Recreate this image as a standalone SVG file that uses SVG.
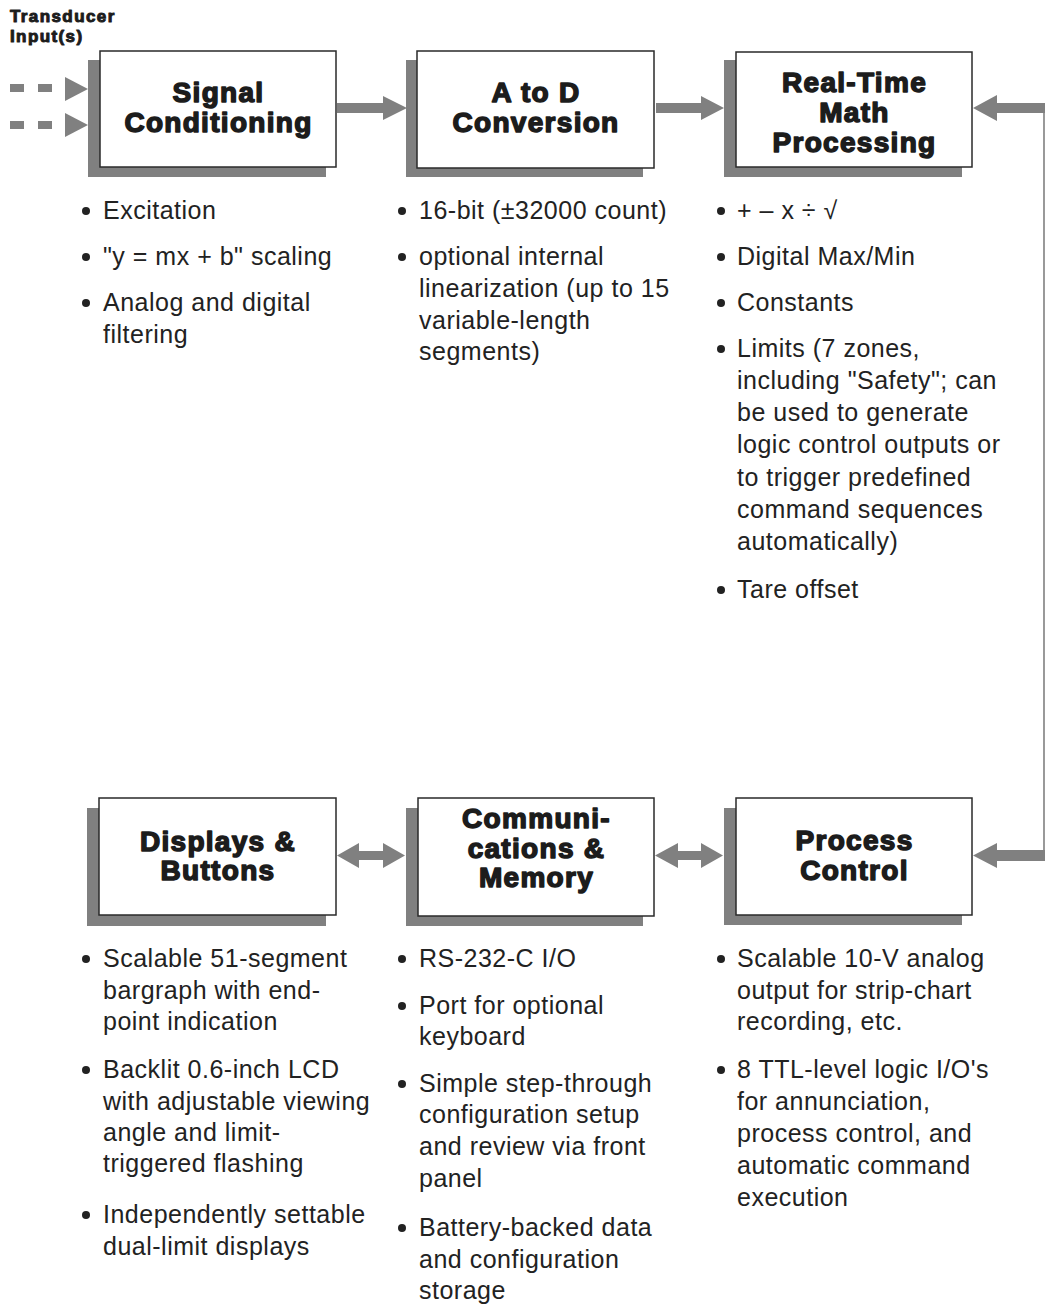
<svg xmlns="http://www.w3.org/2000/svg" width="1045" height="1304" viewBox="0 0 1045 1304">
<style>
.shadow{fill:#808080}
.box{fill:#ffffff;stroke:#2a2a2a;stroke-width:1.5}
.title{font-family:"Liberation Sans",Arial,sans-serif;font-weight:bold;font-size:28px;letter-spacing:1.3px;fill:#1c1c1c;stroke:#1c1c1c;stroke-width:1.5;stroke-linejoin:round;text-anchor:middle}
.lbl{font-family:"Liberation Sans",Arial,sans-serif;font-weight:bold;font-size:17px;letter-spacing:1.4px;fill:#1c1c1c;stroke:#1c1c1c;stroke-width:1;stroke-linejoin:round}
.txt{font-family:"Liberation Sans",Arial,sans-serif;font-size:25px;letter-spacing:0.5px;fill:#222222}
.dot{fill:#222222}
.arr{fill:#808080}
.wire{fill:none;stroke:#808080;stroke-width:1.6}
</style>
<rect width="1045" height="1304" fill="#ffffff"/>

<g id="connectors">
  <!-- transducer inputs -->
  <rect class="arr" x="10" y="84" width="14" height="8"/>
  <rect class="arr" x="38" y="84" width="14" height="8"/>
  <polygon class="arr" points="65,77 88,89 65,101"/>
  <rect class="arr" x="10" y="121" width="14" height="8"/>
  <rect class="arr" x="38" y="121" width="14" height="8"/>
  <polygon class="arr" points="65,113 88,125 65,137"/>
  <!-- Signal -> A/D -->
  <polygon class="arr" points="337,103 383,103 383,96 407,108 383,120 383,113 337,113"/>
  <!-- A/D -> Real-Time -->
  <polygon class="arr" points="656,103 701,103 701,96 724,108 701,120 701,113 656,113"/>
  <!-- feedback into Real-Time -->
  <polygon class="arr" points="1045,103 997,103 997,95 973,108 997,121 997,113 1045,113"/>
  <line class="wire" x1="1044" y1="112" x2="1044" y2="851"/>
  <!-- into Process Control -->
  <polygon class="arr" points="1045,850 997,850 997,843 973,855.5 997,868 997,861 1045,861"/>
  <!-- Displays <-> Comm -->
  <polygon class="arr" points="337,855.5 359,843 359,851 383,851 383,843 405,855.5 383,868 383,860 359,860 359,868"/>
  <!-- Comm <-> Process -->
  <polygon class="arr" points="655,855.5 678,843 678,851 701,851 701,843 723,855.5 701,868 701,860 678,860 678,868"/>
</g>

<g id="transducer-label">
  <text class="lbl" x="10" y="22">Transducer</text>
  <text class="lbl" x="10" y="42">Input(s)</text>
</g>

<g id="signal-conditioning">
  <rect class="shadow" x="88" y="60" width="238" height="117"/>
  <rect class="box" x="100" y="51" width="236" height="116"/>
  <text class="title" x="218.5" y="102">Signal</text>
  <text class="title" x="218.5" y="132">Conditioning</text>
</g>

<g id="a-to-d">
  <rect class="shadow" x="406" y="60" width="237" height="117"/>
  <rect class="box" x="417" y="51" width="237" height="117"/>
  <text class="title" x="536" y="102">A to D</text>
  <text class="title" x="536" y="132">Conversion</text>
</g>

<g id="real-time-math">
  <rect class="shadow" x="724" y="60" width="238" height="117"/>
  <rect class="box" x="736" y="52" width="236" height="115"/>
  <text class="title" x="854.5" y="92">Real-Time</text>
  <text class="title" x="854.5" y="122">Math</text>
  <text class="title" x="854.5" y="152">Processing</text>
</g>

<g id="displays-buttons">
  <rect class="shadow" x="87" y="808" width="239" height="118"/>
  <rect class="box" x="99" y="798" width="237" height="117"/>
  <text class="title" x="218" y="851">Displays &amp;</text>
  <text class="title" x="218" y="880">Buttons</text>
</g>

<g id="communications-memory">
  <rect class="shadow" x="406" y="808" width="237" height="118"/>
  <rect class="box" x="418" y="798" width="236" height="118"/>
  <text class="title" x="536.5" y="828">Communi-</text>
  <text class="title" x="536.5" y="858">cations &amp;</text>
  <text class="title" x="536.5" y="887">Memory</text>
</g>

<g id="process-control">
  <rect class="shadow" x="724" y="808" width="238" height="117"/>
  <rect class="box" x="736" y="798" width="236" height="117"/>
  <text class="title" x="854.5" y="850">Process</text>
  <text class="title" x="854.5" y="880">Control</text>
</g>

<g id="signal-notes">
  <circle class="dot" cx="86" cy="211" r="4"/>
  <text class="txt" x="103" y="219">Excitation</text>
  <circle class="dot" cx="86" cy="257" r="4"/>
  <text class="txt" x="103" y="265">"y = mx + b" scaling</text>
  <circle class="dot" cx="86" cy="303" r="4"/>
  <text class="txt" x="103" y="311">Analog and digital</text>
  <text class="txt" x="103" y="343">filtering</text>
</g>

<g id="a-to-d-notes">
  <circle class="dot" cx="402" cy="211" r="4"/>
  <text class="txt" x="419" y="219">16-bit (±32000 count)</text>
  <circle class="dot" cx="402" cy="257" r="4"/>
  <text class="txt" x="419" y="265">optional internal</text>
  <text class="txt" x="419" y="297">linearization (up to 15</text>
  <text class="txt" x="419" y="329">variable-length</text>
  <text class="txt" x="419" y="360">segments)</text>
</g>

<g id="math-notes">
  <circle class="dot" cx="721" cy="211" r="4"/>
  <text class="txt" x="737" y="219">+ – x ÷ √</text>
  <circle class="dot" cx="721" cy="257" r="4"/>
  <text class="txt" x="737" y="265">Digital Max/Min</text>
  <circle class="dot" cx="721" cy="303" r="4"/>
  <text class="txt" x="737" y="311">Constants</text>
  <circle class="dot" cx="721" cy="349" r="4"/>
  <text class="txt" x="737" y="357">Limits (7 zones,</text>
  <text class="txt" x="737" y="389">including "Safety"; can</text>
  <text class="txt" x="737" y="421">be used to generate</text>
  <text class="txt" x="737" y="453">logic control outputs or</text>
  <text class="txt" x="737" y="486">to trigger predefined</text>
  <text class="txt" x="737" y="518">command sequences</text>
  <text class="txt" x="737" y="550">automatically)</text>
  <circle class="dot" cx="721" cy="590" r="4"/>
  <text class="txt" x="737" y="598">Tare offset</text>
</g>

<g id="displays-notes">
  <circle class="dot" cx="86" cy="959" r="4"/>
  <text class="txt" x="103" y="967">Scalable 51-segment</text>
  <text class="txt" x="103" y="999">bargraph with end-</text>
  <text class="txt" x="103" y="1030">point indication</text>
  <circle class="dot" cx="86" cy="1070" r="4"/>
  <text class="txt" x="103" y="1078">Backlit 0.6-inch LCD</text>
  <text class="txt" x="103" y="1110">with adjustable viewing</text>
  <text class="txt" x="103" y="1141">angle and limit-</text>
  <text class="txt" x="103" y="1172">triggered flashing</text>
  <circle class="dot" cx="86" cy="1215" r="4"/>
  <text class="txt" x="103" y="1223">Independently settable</text>
  <text class="txt" x="103" y="1255">dual-limit displays</text>
</g>

<g id="communications-notes">
  <circle class="dot" cx="402" cy="959" r="4"/>
  <text class="txt" x="419" y="967">RS-232-C I/O</text>
  <circle class="dot" cx="402" cy="1006" r="4"/>
  <text class="txt" x="419" y="1014">Port for optional</text>
  <text class="txt" x="419" y="1045">keyboard</text>
  <circle class="dot" cx="402" cy="1084" r="4"/>
  <text class="txt" x="419" y="1092">Simple step-through</text>
  <text class="txt" x="419" y="1123">configuration setup</text>
  <text class="txt" x="419" y="1155">and review via front</text>
  <text class="txt" x="419" y="1187">panel</text>
  <circle class="dot" cx="402" cy="1228" r="4"/>
  <text class="txt" x="419" y="1236">Battery-backed data</text>
  <text class="txt" x="419" y="1268">and configuration</text>
  <text class="txt" x="419" y="1299">storage</text>
</g>

<g id="process-notes">
  <circle class="dot" cx="721" cy="959" r="4"/>
  <text class="txt" x="737" y="967">Scalable 10-V analog</text>
  <text class="txt" x="737" y="999">output for strip-chart</text>
  <text class="txt" x="737" y="1030">recording, etc.</text>
  <circle class="dot" cx="721" cy="1070" r="4"/>
  <text class="txt" x="737" y="1078">8 TTL-level logic I/O's</text>
  <text class="txt" x="737" y="1110">for annunciation,</text>
  <text class="txt" x="737" y="1142">process control, and</text>
  <text class="txt" x="737" y="1174">automatic command</text>
  <text class="txt" x="737" y="1206">execution</text>
</g>
</svg>
